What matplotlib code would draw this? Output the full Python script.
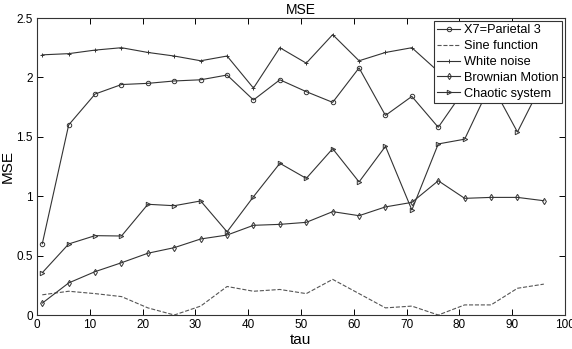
import numpy as np
import matplotlib.pyplot as plt

plt.rcParams['font.family'] = ['Liberation Sans', 'DejaVu Sans']

tau = [1, 6, 11, 16, 21, 26, 31, 36, 41, 46, 51, 56, 61, 66, 71, 76, 81, 86, 91, 96]

parietal = [0.60, 1.60, 1.86, 1.94, 1.95, 1.97, 1.98, 2.02, 1.81, 1.98,
            1.88, 1.79, 2.08, 1.68, 1.84, 1.58, 1.90, 2.00, 1.95, 2.00]
sine = [0.17, 0.20, 0.18, 0.155, 0.06, 0.0, 0.075, 0.24, 0.20, 0.215,
        0.18, 0.30, 0.18, 0.06, 0.075, 0.0, 0.085, 0.085, 0.225, 0.26]
white = [2.19, 2.20, 2.23, 2.25, 2.21, 2.18, 2.14, 2.18, 1.91, 2.25,
         2.12, 2.36, 2.14, 2.21, 2.25, 2.05, 2.20, 2.15, 2.25, 2.20]
brownian = [0.10, 0.27, 0.365, 0.44, 0.52, 0.567, 0.64, 0.673, 0.755, 0.763,
            0.78, 0.87, 0.836, 0.91, 0.948, 1.13, 0.982, 0.99, 0.99, 0.962]
chaotic = [0.356, 0.598, 0.668, 0.665, 0.932, 0.92, 0.96, 0.70, 0.996, 1.277,
           1.15, 1.40, 1.12, 1.42, 0.884, 1.44, 1.48, 1.95, 1.54, 1.98]

fig = plt.figure(figsize=(5.72, 3.49), dpi=100)
ax = fig.add_axes([0.0647, 0.0974, 0.923, 0.851])

lc = '#333333'
kw = dict(color=lc, lw=0.8, markersize=3.2, markerfacecolor='none', markeredgewidth=0.7)
ax.plot(tau, parietal, marker='o', label='X7=Parietal 3', **kw)
ax.plot(tau, sine, ls='--', color='#555555', lw=0.8, label='Sine function')
ax.plot(tau, white, marker='+', label='White noise', **kw)
ax.plot(tau, brownian, marker='d', label='Brownian Motion', **kw)
ax.plot(tau, chaotic, marker='>', label='Chaotic system', **kw)

ax.set_xlim(0, 100)
ax.set_ylim(0, 2.5)
ax.set_xticks(np.arange(0, 101, 10))
ax.set_yticks([0, 0.5, 1, 1.5, 2, 2.5])
ax.set_yticklabels(['0', '0.5', '1', '1.5', '2', '2.5'])
ax.tick_params(direction='in', top=True, right=True, labelsize=8.5, length=4, width=0.7, pad=3)
for s in ax.spines.values():
    s.set_linewidth(0.8)
    s.set_color('#333333')

ax.set_title('MSE', fontsize=10, pad=3)
ax.set_xlabel('tau', fontsize=11, labelpad=1)
ax.set_ylabel('MSE', fontsize=11, labelpad=1)

leg = ax.legend(loc='upper right', fontsize=9.2, handlelength=1.8, handletextpad=0.3,
                labelspacing=0.3, borderpad=0.25, borderaxespad=0.25,
                fancybox=False, framealpha=1, edgecolor='#333333')
leg.get_frame().set_linewidth(0.8)

fig.savefig('out.png', dpi=100)
